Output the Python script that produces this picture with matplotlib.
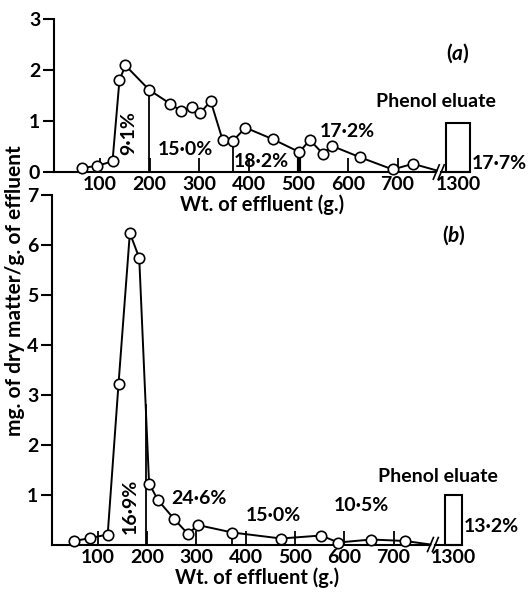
import numpy as np
import matplotlib.pyplot as plt

plt.rcParams['font.family'] = ['Lato', 'DejaVu Sans']
plt.rcParams['font.weight'] = 'bold'
plt.rcParams['axes.labelweight'] = 'bold'
plt.rcParams['mathtext.fontset'] = 'custom'
plt.rcParams['mathtext.it'] = 'Lato:italic:bold'
plt.rcParams['mathtext.rm'] = 'Lato:bold'

# panel (a): effluent weight (g.) and mg. dry matter / g. effluent
xa = [63, 94, 125, 139, 151, 199, 241, 263, 285, 302, 323, 347, 368, 393, 449,
      502, 523, 549, 568, 624, 690, 731]
ya = [0.08, 0.12, 0.21, 1.80, 2.09, 1.61, 1.34, 1.20, 1.28, 1.16, 1.39, 0.63,
      0.61, 0.87, 0.64, 0.39, 0.63, 0.36, 0.51, 0.29, 0.05, 0.16]
end_a = (779, 0.03)
cuts_a = [199, 368, 502]
phenol_a = 0.97
pct_a = ['9·1%', '15·0%', '18·2%', '17·2%', '17·7%']

# panel (b)
xb = [52, 85, 120, 142, 165, 184, 204, 222, 254, 283, 303, 373, 472, 553, 588,
      655, 724]
yb = [0.07, 0.13, 0.20, 3.22, 6.24, 5.74, 1.22, 0.89, 0.52, 0.21, 0.39, 0.24,
      0.12, 0.18, 0.04, 0.10, 0.07]
end_b = (775, 0.0)
cuts_b = [197, 373]
phenol_b = 1.0
pct_b = ['16·9%', '24·6%', '15·0%', '10·5%', '13·2%']

xticks = [100, 200, 300, 400, 500, 600, 700]
phenol_x = 1300
shift = 478  # broken axis: 1300 is drawn at 822

fig = plt.figure(figsize=(5.31, 5.96), dpi=100)
ax1 = fig.add_axes([54/531, 1-172/596, (470-54)/531, 153/596])
ax2 = fig.add_axes([52/531, 1-544.5/596, (462-52)/531, 349.5/596])

FS_TICK = 14
FS_LAB = 14.5
FS_TXT = 14


def draw(ax, x, y, end, cuts, phenol, bw, ymax, yticks, brk):
    px = phenol_x - shift
    xmax = px + bw/2
    ax.set_xlim(7, xmax)
    ax.set_ylim(0, ymax)
    for s in ['top', 'right', 'bottom']:
        ax.spines[s].set_visible(False)
    ax.spines['left'].set_linewidth(1.5)
    ax.plot(list(x) + [end[0]], list(y) + [end[1]], color='black', lw=1.4,
            clip_on=False, zorder=3)
    ax.plot(x, y, 'o', mfc='white', mec='black', ms=7.5, mew=1.2,
            clip_on=False, zorder=4)
    # fraction dividers
    for i, c in enumerate(cuts):
        ax.plot([c, c], [0, np.interp(c, x, y)], color='black',
                lw=3 if i == 2 else 1.3, zorder=2)
    # phenol box
    ax.bar(px, phenol, width=bw, facecolor='white', edgecolor='black',
           lw=1.5, clip_on=False)
    # axis line with break
    ax.plot([7, brk], [0, 0], color='black', lw=1.5, clip_on=False)
    ax.plot([brk + 10, xmax], [0, 0], color='black', lw=1.5, clip_on=False)
    for b in [brk, brk + 10]:
        ax.plot([b - 6, b + 6], [-0.14, 0.14], color='black', lw=1.2,
                clip_on=False)
    ax.set_xticks(xticks + [px])
    ax.set_xticklabels([str(t) for t in xticks] + [str(phenol_x)])
    ax.tick_params(axis='x', direction='in', length=10, width=1.3,
                   labelsize=FS_TICK, pad=3)
    ax.xaxis.get_major_ticks()[-1].tick1line.set_visible(False)
    ax.set_yticks(yticks)
    ax.tick_params(axis='y', direction='out', length=8, width=1.5,
                   labelsize=FS_TICK, pad=2)
    ax.set_xlabel('Wt. of effluent (g.)', fontsize=FS_LAB, labelpad=1)
    ax.patch.set_visible(False)


draw(ax1, xa, ya, end_a, cuts_a, phenol_a, 48, 3, [0, 1, 2, 3], 778)
draw(ax2, xb, yb, end_b, cuts_b, phenol_b, 34, 7, [1, 2, 3, 4, 5, 6, 7], 775)

# labels panel (a)
ax1.text(158, 0.76, pct_a[0], rotation=90, ha='center', va='center', fontsize=FS_TXT)
ax1.text(272, 0.45, pct_a[1], ha='center', va='center', fontsize=FS_TXT)
ax1.text(426, 0.2, pct_a[2], ha='center', va='center', fontsize=FS_TXT)
ax1.text(598, 0.79, pct_a[3], ha='center', va='center', fontsize=FS_TXT)
ax1.text(850, 0.17, pct_a[4], ha='left', va='center', fontsize=FS_TXT)
ax1.text(778, 1.38, 'Phenol eluate', ha='center', va='center', fontsize=FS_TXT)
ax1.text(822, 2.33, r'($\mathit{a}$)', ha='center', va='center', fontsize=15)

# labels panel (b)
ax2.text(165, 0.76, pct_b[0], rotation=90, ha='center', va='center', fontsize=FS_TXT)
ax2.text(305, 0.93, pct_b[1], ha='center', va='center', fontsize=FS_TXT)
ax2.text(457, 0.59, pct_b[2], ha='center', va='center', fontsize=FS_TXT)
ax2.text(635, 0.79, pct_b[3], ha='center', va='center', fontsize=FS_TXT)
ax2.text(842, 0.36, pct_b[4], ha='left', va='center', fontsize=FS_TXT)
ax2.text(790, 1.36, 'Phenol eluate', ha='center', va='center', fontsize=FS_TXT)
ax2.text(822, 6.19, r'($\mathit{b}$)', ha='center', va='center', fontsize=15)

fig.text(15/531, 1-291/596, 'mg. of dry matter/g. of effluent', rotation=90,
         ha='center', va='center', fontsize=15)

fig.savefig('out.png', dpi=100)
